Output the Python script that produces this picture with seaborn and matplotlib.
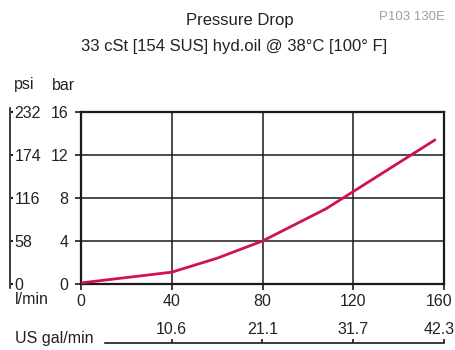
import matplotlib
matplotlib.use("Agg")
import matplotlib.pyplot as plt
import matplotlib.transforms as mtransforms
import seaborn as sns
import pandas as pd

# Flow (l/min) vs pressure drop (bar)
flow_lpm = [0, 40, 60, 80, 108, 156]
drop_bar = [0.1, 1.1, 2.4, 4.0, 7.0, 13.4]

bar_ticks = [0, 4, 8, 12, 16]
psi_ticks = [0, 58, 116, 174, 232]
lpm_ticks = [0, 40, 80, 120, 160]
gpm_labels = ["10.6", "21.1", "31.7", "42.3"]

LPM_PER_GAL = 3.785

sns.set_style("white")
plt.rcParams["font.family"] = ["Liberation Sans", "DejaVu Sans"]
plt.rcParams["text.color"] = "#222222"

FS = 11.5
W, H = 455, 350
fig = plt.figure(figsize=(W / 100, H / 100), dpi=100)

x0, x1 = 81, 444
y0, y1 = 284, 112
ax = fig.add_axes([x0 / W, 1 - y0 / H, (x1 - x0) / W, (y0 - y1) / H])

df = pd.DataFrame({"flow": flow_lpm, "drop": drop_bar})
sns.lineplot(data=df, x="flow", y="drop", ax=ax, color="#d0124e", lw=2.0,
             solid_capstyle="round", zorder=5)

ax.set_xlim(0, 160)
ax.set_ylim(0, 16)
ax.set_xticks(lpm_ticks)
ax.set_yticks(bar_ticks)
ax.set_xlabel("")
ax.set_ylabel("")
ax.grid(True, color="#1a1a1a", lw=1.1)
for s in ax.spines.values():
    s.set_visible(True)
    s.set_color("#1a1a1a")
    s.set_linewidth(1.6)
ax.tick_params(axis="both", direction="out", length=4, width=1.2,
               color="#1a1a1a", labelsize=FS, labelcolor="#222222")
ax.tick_params(axis="x", pad=3)
ax.tick_params(axis="y", pad=5)
ax.tick_params(left=True, bottom=True)

# psi scale on the far left
ext = 4 * 232 / 172
pax = fig.add_axes([10 / W, 1 - 288 / H, 0.002, 180 / H])
pax.set_ylim(-ext, 232 + ext)
pax.set_xticks([])
pax.set_yticks(psi_ticks)
pax.set_facecolor("none")
for name, s in pax.spines.items():
    s.set_visible(name == "left")
pax.spines["left"].set_color("#1a1a1a")
pax.spines["left"].set_linewidth(1.2)
pax.yaxis.tick_right()
pax.tick_params(axis="y", direction="out", length=1.5, width=1.5,
                color="#1a1a1a", pad=1, labelsize=FS, labelcolor="#222222")

# US gal/min scale below the plot
sec = ax.secondary_xaxis(-(343 - y0) / (y0 - y1),
                         functions=(lambda q: q / LPM_PER_GAL,
                                    lambda g: g * LPM_PER_GAL))
sec.set_xticks([q / LPM_PER_GAL * 0.99999 for q in lpm_ticks[1:]],
               labels=gpm_labels)
sec.xaxis.tick_top()
sec.spines["bottom"].set_color("#1a1a1a")
sec.spines["bottom"].set_linewidth(1.2)
sec.spines["bottom"].set_bounds(2.8, 160 / LPM_PER_GAL)
sec.tick_params(axis="x", direction="out", length=3, width=1.2,
                color="#1a1a1a", pad=1, labelsize=FS, labelcolor="#222222")

# keep the right-most labels inside the figure
nudge = mtransforms.ScaledTranslation(-5 / 100, 0, fig.dpi_scale_trans)
for lab in (ax.get_xticklabels()[-1], sec.xaxis.get_majorticklabels()[-1]):
    lab.set_transform(lab.get_transform() + nudge)

fig.text(240 / W, 1 - 21 / H, "Pressure Drop", ha="center", va="center",
         fontsize=12)
fig.text(445 / W, 1 - 17 / H, "P103 130E", ha="right", va="center",
         fontsize=9.5, color="#a0a0a0")
fig.text(234 / W, 1 - 47 / H, "33 cSt [154 SUS] hyd.oil @ 38°C [100° F]",
         ha="center", va="center", fontsize=12)
fig.text(14 / W, 1 - 85 / H, "psi", ha="left", va="center", fontsize=FS)
fig.text(52 / W, 1 - 85 / H, "bar", ha="left", va="center", fontsize=FS)
fig.text(15 / W, 1 - 300 / H, "l/min", ha="left", va="center", fontsize=FS)
fig.text(15 / W, 1 - 339 / H, "US gal/min", ha="left", va="center",
         fontsize=FS)

fig.savefig("out.png", dpi=100)
